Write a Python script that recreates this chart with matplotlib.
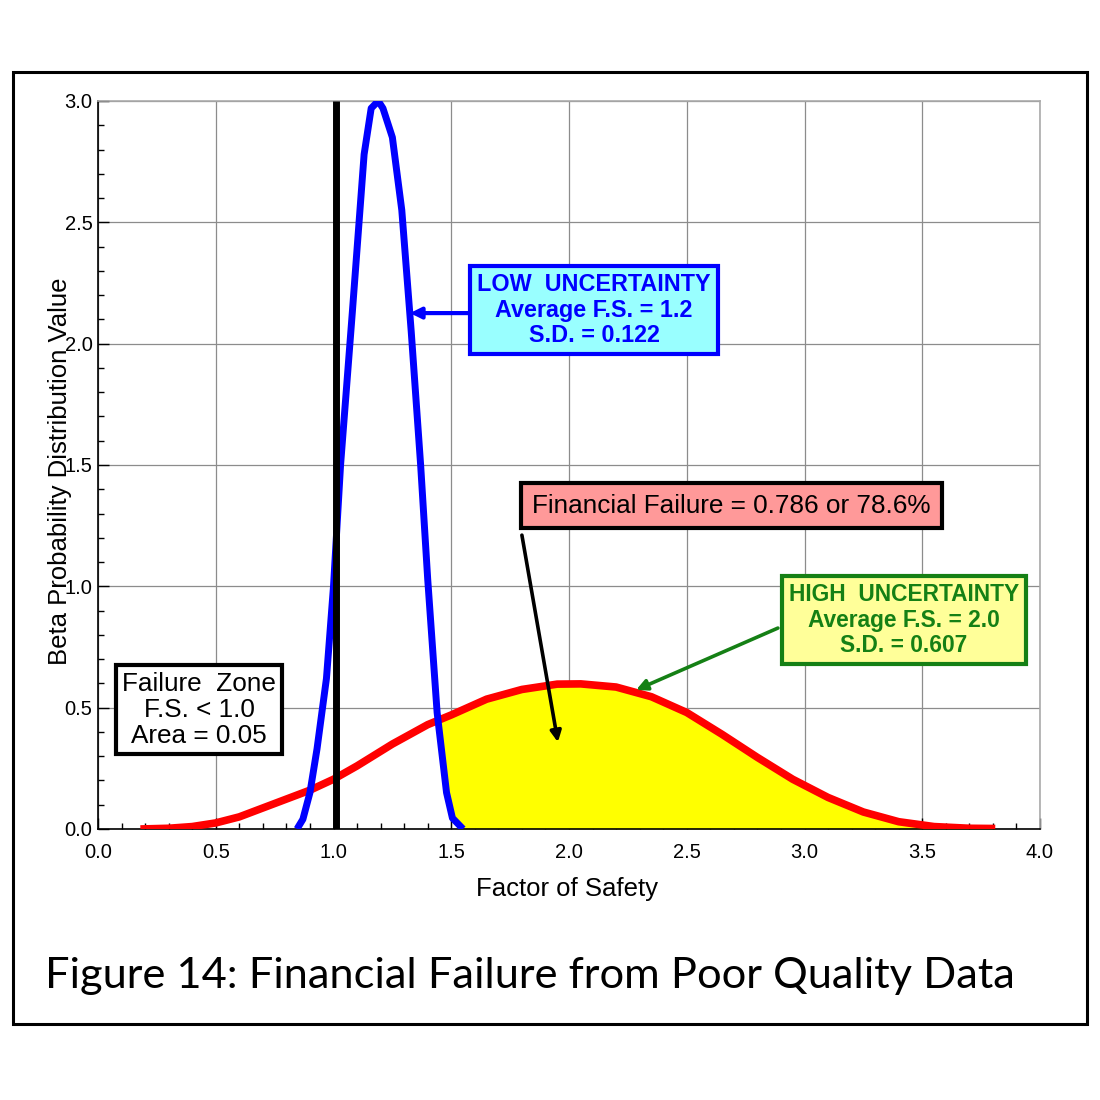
import numpy as np
import matplotlib
matplotlib.use("Agg")
import matplotlib.pyplot as plt
from matplotlib.patches import Rectangle

plt.rcParams['font.family'] = ['Liberation Sans', 'DejaVu Sans']

# ---- data ----
blue_x = [0.845, 0.87, 0.90, 0.93, 0.97, 1.00, 1.03, 1.08, 1.13, 1.16, 1.19, 1.21,
          1.25, 1.29, 1.33, 1.37, 1.40, 1.44, 1.48, 1.505, 1.55]
blue_y = [0.0, 0.04, 0.15, 0.33, 0.62, 1.0, 1.5, 2.13, 2.78, 2.97, 3.0, 2.97,
          2.85, 2.55, 2.05, 1.5, 1.03, 0.48, 0.15, 0.045, 0.0]

red_x = [0.18, 0.30, 0.40, 0.50, 0.60, 0.75, 0.90, 1.00, 1.10, 1.25, 1.40, 1.50,
         1.65, 1.80, 1.95, 2.05, 2.20, 2.35, 2.50, 2.65, 2.80, 2.95, 3.10, 3.25,
         3.40, 3.55, 3.70, 3.81]
red_y = [0.0, 0.003, 0.01, 0.025, 0.05, 0.105, 0.16, 0.205, 0.26, 0.35, 0.43, 0.47,
         0.535, 0.575, 0.597, 0.598, 0.585, 0.545, 0.48, 0.39, 0.295, 0.205, 0.13, 0.07,
         0.03, 0.01, 0.003, 0.002]

failure_fs = 1.012
x_ticks = [0.0, 0.5, 1.0, 1.5, 2.0, 2.5, 3.0, 3.5, 4.0]
y_ticks = [0.0, 0.5, 1.0, 1.5, 2.0, 2.5, 3.0]

low_text = "LOW  UNCERTAINTY\nAverage F.S. = 1.2\nS.D. = 0.122"
high_text = "HIGH  UNCERTAINTY\nAverage F.S. = 2.0\nS.D. = 0.607"
fin_text = "Financial Failure = 0.786 or 78.6%"
zone_text = "Failure  Zone\nF.S. < 1.0\nArea = 0.05"
caption = "Figure 14: Financial Failure from Poor Quality Data"

# ---- figure ----
fig = plt.figure(figsize=(11, 11), dpi=100)
fig.patch.set_facecolor('white')
ax = fig.add_axes([98/1100, 1-829/1100, (1040-98)/1100, (829-101)/1100])

# outer frame
fig.patches.append(Rectangle((13/1100, 1-1024/1100), (1087-13)/1100, (1024-72)/1100,
                             transform=fig.transFigure, fill=False, ec='black', lw=2.2))

ax.set_xlim(0, 4)
ax.set_ylim(0, 3)
ax.set_xticks(x_ticks)
ax.set_yticks(y_ticks)
ax.set_xticks(np.arange(0, 4.001, 0.1), minor=True)
ax.set_yticks(np.arange(0, 3.001, 0.1), minor=True)
ax.set_xticklabels([f"{v:.1f}" for v in x_ticks])
ax.set_yticklabels([f"{v:.1f}" for v in y_ticks])
ax.tick_params(which='major', direction='in', length=8, width=1, labelsize=14.5,
               top=False, right=False, pad=4)
ax.tick_params(which='minor', direction='in', length=4.5, width=1, top=False, right=False)
ax.tick_params(axis='x', which='major', pad=10)
ax.grid(True, which='major', color='#8c8c8c', lw=0.9)
ax.set_axisbelow(True)
for s in ['top', 'right']:
    ax.spines[s].set_color('#aaaaaa')
    ax.spines[s].set_linewidth(1.2)
for s in ['left', 'bottom']:
    ax.spines[s].set_color('black')
    ax.spines[s].set_linewidth(1.2)

# yellow fill between curves
xs = np.linspace(red_x[0], red_x[-1], 1500)
r_i = np.interp(xs, red_x, red_y)
b_i = np.interp(xs, blue_x, blue_y, left=0, right=0)
ax.fill_between(xs, b_i, r_i, where=(r_i >= b_i) & (xs > 1.3), color='#ffff00',
                lw=0, zorder=2, interpolate=True)

ax.plot(red_x, red_y, color='#ff0000', lw=5.5, solid_capstyle='butt', zorder=3)
ax.plot(blue_x, blue_y, color='#0000ff', lw=5, solid_capstyle='butt', zorder=4)
ax.plot([failure_fs, failure_fs], [0, 3], color='black', lw=5, solid_capstyle='butt', zorder=5)

ax.set_xlabel("Factor of Safety", fontsize=18.5)
ax.xaxis.set_label_coords(0.498, -0.066)
ax.set_ylabel("Beta Probability Distribution Value", fontsize=18.5)
ax.yaxis.set_label_coords(-0.028, 0.492)

# annotations
ax.text(2.106, 2.138, low_text, ha='center', va='center', fontsize=16.8,
        fontweight='bold', color='#0000ff', linespacing=1.13, zorder=7,
        bbox=dict(boxstyle='square,pad=0.3', fc='#99ffff', ec='#0000ff', lw=3))
ax.annotate('', xy=(1.325, 2.126), xytext=(1.579, 2.126),
            arrowprops=dict(arrowstyle='-|>', color='#0000ff', lw=3, mutation_scale=16,
                            shrinkA=0, shrinkB=0), zorder=6)

ax.text(2.690, 1.333, fin_text, ha='center', va='center', fontsize=18.8,
        color='black', zorder=7,
        bbox=dict(boxstyle='square,pad=0.42', fc='#ff9999', ec='black', lw=3))
ax.annotate('', xy=(1.953, 0.358), xytext=(1.800, 1.211),
            arrowprops=dict(arrowstyle='-|>', color='black', lw=2.6, mutation_scale=16,
                            shrinkA=0, shrinkB=0), zorder=6)

ax.text(3.423, 0.861, high_text, ha='center', va='center', fontsize=16.4,
        fontweight='bold', color='#158015', linespacing=1.13, zorder=7,
        bbox=dict(boxstyle='square,pad=0.3', fc='#ffff99', ec='#158015', lw=3))
ax.annotate('', xy=(2.285, 0.573), xytext=(2.887, 0.828),
            arrowprops=dict(arrowstyle='-|>', color='#158015', lw=2.6, mutation_scale=16,
                            shrinkA=0, shrinkB=0), zorder=6)

ax.text(0.429, 0.492, zone_text, ha='center', va='center', fontsize=18.8,
        color='black', linespacing=1.1, zorder=7,
        bbox=dict(boxstyle='square,pad=0.25', fc='white', ec='black', lw=3))

fig.text(45/1100, 1-988/1100, caption, ha='left', va='baseline',
         fontsize=31.2, family=['Lato', 'DejaVu Sans'], color='black')

fig.savefig('out.png', dpi=100)
